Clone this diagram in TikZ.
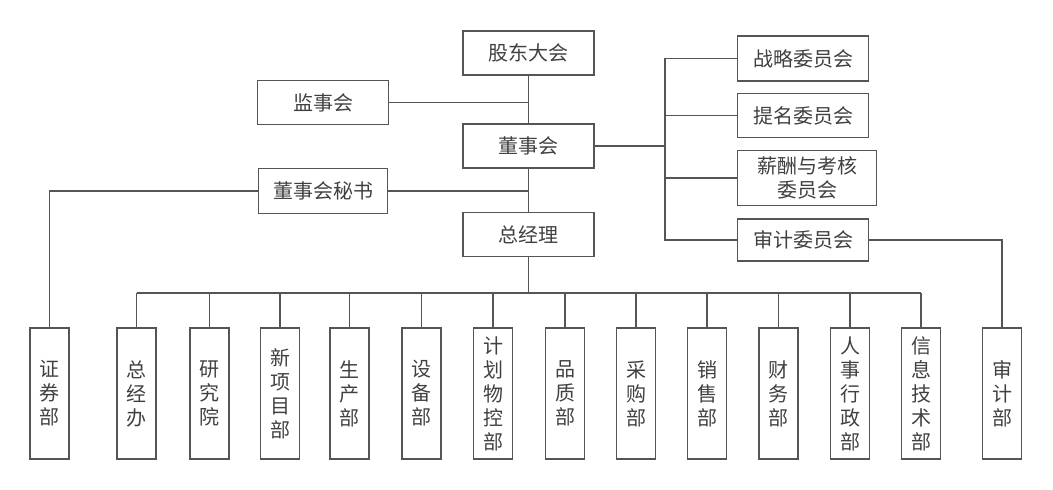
\documentclass[tikz,border=0pt]{standalone}
\usepackage{fontspec}
\setmainfont{Noto Sans CJK SC}
\usepackage{tikz}
\usetikzlibrary{positioning}
\definecolor{linegray}{HTML}{555555}
\definecolor{textgray}{HTML}{404040}

\begin{document}
\begin{tikzpicture}[x=1pt, y=-1pt,
	box/.style={draw=linegray, line width=1.2pt, text=textgray, font=\fontsize{20}{24}\selectfont,
		inner sep=0pt, minimum width=131pt, minimum height=44pt, align=center},
	dept/.style={box, minimum width=39pt, minimum height=131pt, text width=20pt},
	link/.style={draw=linegray, line width=1.2pt}]
	\useasboundingbox (0,0) rectangle (1053,490);

	\node[box] at (528.5, 53) (gdh) {股东大会};
	\node[box] at (323, 102.5) (jsh) {监事会};
	\node[box] at (528.5, 146) (dsh) {董事会};
	\node[box, minimum width=129pt, minimum height=45pt] at (323, 191) (msh) {董事会秘书};
	\node[box] at (528.5, 234.5) (zjl) {总经理};

	\node[box, minimum height=45pt] at (803, 58.5) (zlw) {战略委员会};
	\node[box] at (803, 115.5) (tmw) {提名委员会};
	\node[box, minimum width=139pt, minimum height=55pt] at (807, 178) (xcw) {薪酬与考核\\委员会};
	\node[box, minimum height=42pt] at (803, 240) (sjw) {审计委员会};

	\node[dept] at (49.5, 393.5) (zqb) {证\\券\\部};
	\node[dept] at (136.5, 393.5) (zjb) {总\\经\\办};
	\node[dept] at (209.5, 393.5) (yjy) {研\\究\\院};
	\node[dept] at (280, 393.5) (xxm) {新\\项\\目\\部};
	\node[dept] at (349.5, 393.5) (scb) {生\\产\\部};
	\node[dept] at (421.5, 393.5) (sbb) {设\\备\\部};
	\node[dept] at (493, 393.5) (jhw) {计\\划\\物\\控\\部};
	\node[dept] at (565, 393.5) (pzb) {品\\质\\部};
	\node[dept] at (636, 393.5) (cgb) {采\\购\\部};
	\node[dept] at (707, 393.5) (xsb) {销\\售\\部};
	\node[dept] at (778.5, 393.5) (cwb) {财\\务\\部};
	\node[dept] at (850, 393.5) (rsx) {人\\事\\行\\政\\部};
	\node[dept] at (921, 393.5) (xxj) {信\\息\\技\\术\\部};
	\node[dept] at (1002, 393.5) (sjb) {审\\计\\部};

	\coordinate (cbus) at (665, 146);
	\coordinate (busL) at (136.5, 293);
	\coordinate (busR) at (921, 293);

	\draw[link] (gdh) -- (dsh);
	\draw[link] (dsh) -- (zjl);
	\draw[link] (jsh.east) -- (jsh.east -| gdh.south);
	\draw[link] (msh.east) -- (msh.east -| dsh.south);
	\draw[link] (msh.west) -| (zqb.north);

	\draw[link] (dsh.east) -- (cbus);
	\draw[link] (zlw.west) -| (cbus);
	\draw[link] (sjw.west) -| (cbus);
	\draw[link] (tmw.west) -- (tmw.west -| cbus);
	\draw[link] (xcw.west) -- (xcw.west -| cbus);
	\draw[link] (sjw.east) -| (sjb.north);

	\draw[link] (zjl.south) -- (zjl.south |- busL);
	\draw[link] (busL) -- (busR);
	\draw[link] (zjb.north) -- (zjb.north |- busL);
	\draw[link] (yjy.north) -- (yjy.north |- busL);
	\draw[link] (xxm.north) -- (xxm.north |- busL);
	\draw[link] (scb.north) -- (scb.north |- busL);
	\draw[link] (sbb.north) -- (sbb.north |- busL);
	\draw[link] (jhw.north) -- (jhw.north |- busL);
	\draw[link] (pzb.north) -- (pzb.north |- busL);
	\draw[link] (cgb.north) -- (cgb.north |- busL);
	\draw[link] (xsb.north) -- (xsb.north |- busL);
	\draw[link] (cwb.north) -- (cwb.north |- busL);
	\draw[link] (rsx.north) -- (rsx.north |- busL);
	\draw[link] (xxj.north) -- (xxj.north |- busL);
\end{tikzpicture}
\end{document}
